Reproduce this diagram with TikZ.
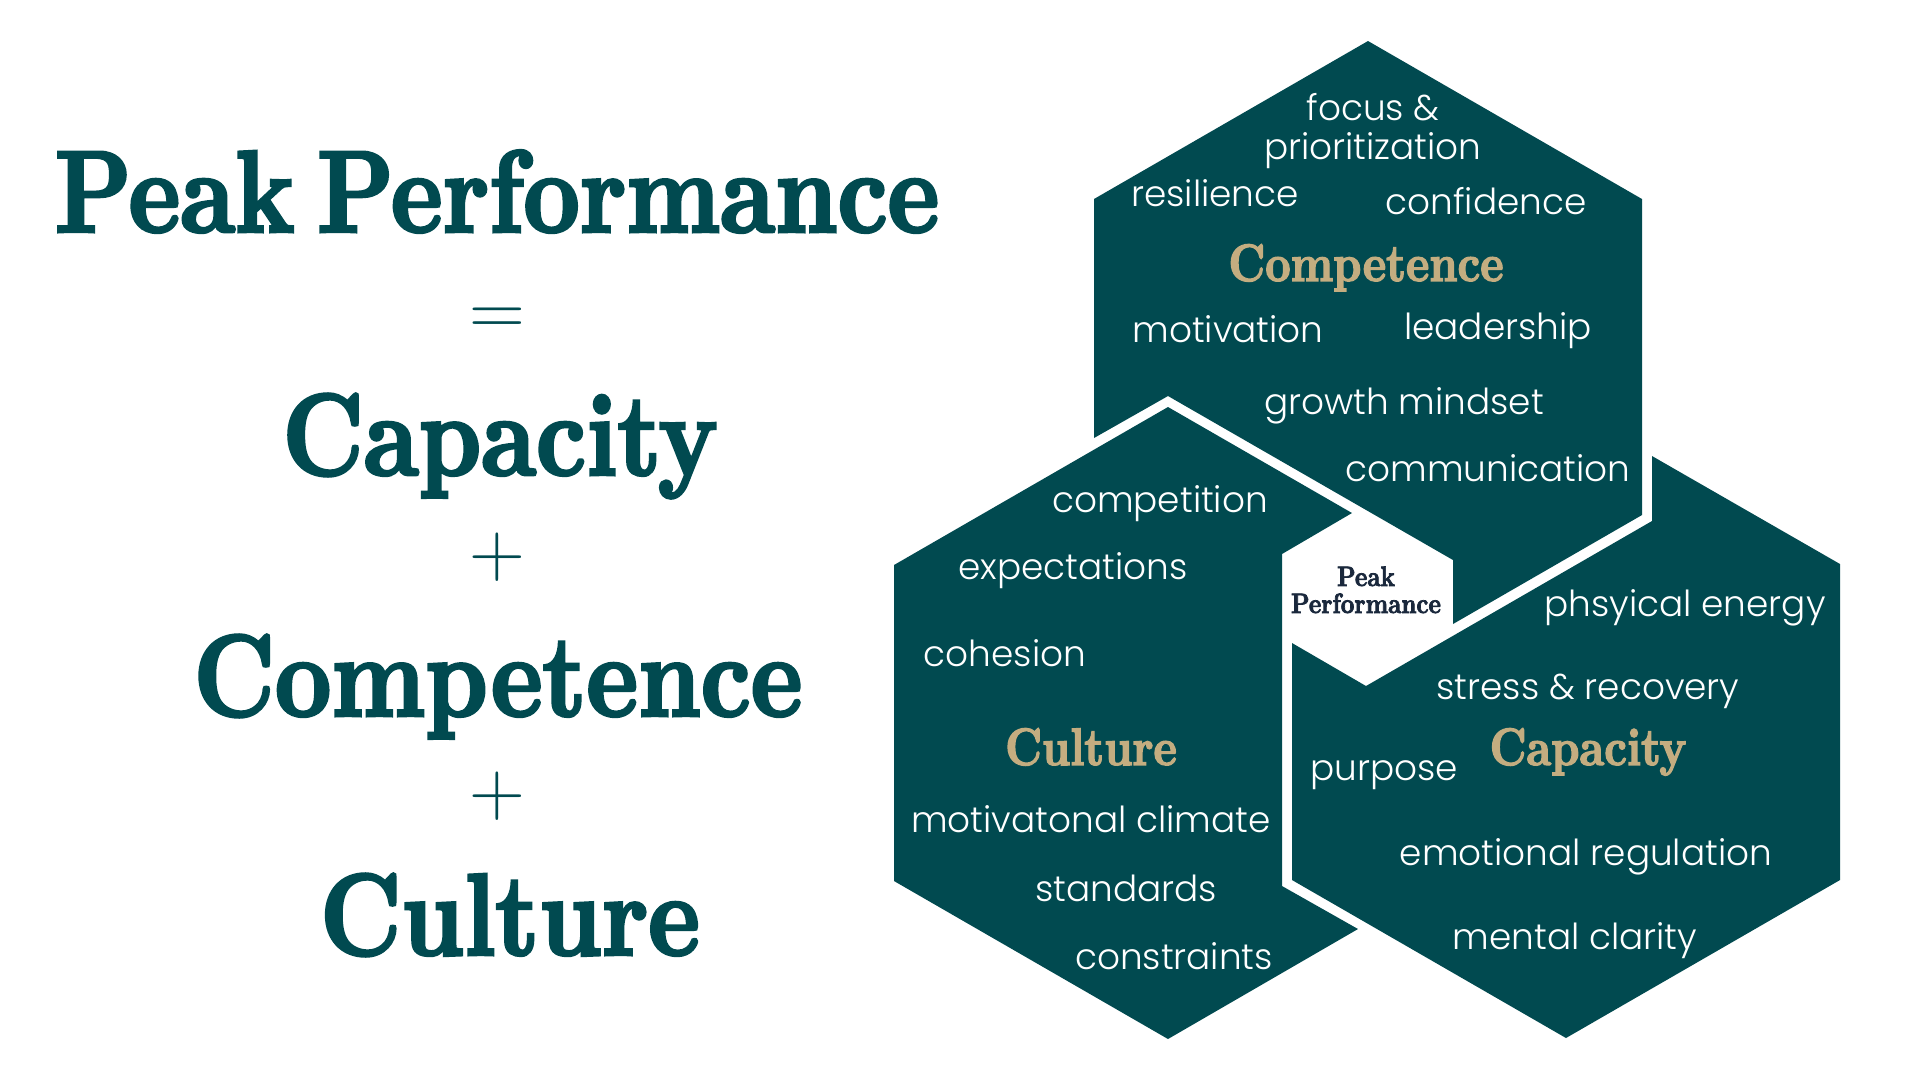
\documentclass[tikz,border=0pt]{standalone}
\usepackage{fontspec}
\IfFontExistsTF{Poppins Light}{\newfontfamily\itemfont{Poppins Light}}{\newfontfamily\itemfont{Poppins}}
\newfontfamily\titlefont[FakeStretch=0.84, FakeBold=2.5, WordSpace=0.6]{lmroman10-bold.otf}
\definecolor{hexteal}{RGB}{1,74,80}
\definecolor{hexgold}{RGB}{196,173,128}
\definecolor{peaknavy}{RGB}{26,40,60}
\tikzset{
	hexfill/.style={fill=hexteal, draw=none},
	itemtext/.style={anchor=base, inner sep=0pt, text=white, font=\itemfont\fontsize{10.2}{12}\selectfont},
	hexlabel/.style={anchor=base, inner sep=0pt, text=hexgold, font=\titlefont\fontsize{15}{18}\selectfont},
	bigword/.style={anchor=base, inner sep=0pt, text=hexteal, font=\titlefont\fontsize{33.2}{40}\selectfont},
	opsign/.style={inner sep=0pt, text=hexteal, font=\rmfamily\fontsize{22}{26}\selectfont},
	peaklabel/.style={anchor=base, inner sep=0pt, text=peaknavy, font=\titlefont\fontsize{8}{10}\selectfont}
}

\begin{document}
\begin{tikzpicture}[x=0.1mm, y=-0.1mm]
	\useasboundingbox (0,0) rectangle (1920,1080);

	% hexagons
	\fill[hexfill] (1094,199) -- (1368,41) -- (1642,199) -- (1642,515) -- (1453,624)
		-- (1453,560) -- (1168,396) -- (1094,438) -- cycle;
	\fill[hexfill] (894,565) -- (1168,407) -- (1352,513) -- (1282,554) -- (1282,886)
		-- (1358,929) -- (1168,1039) -- (894,881) -- cycle;
	\fill[hexfill] (1652,456) -- (1840,564) -- (1840,880) -- (1566,1038) -- (1292,880)
		-- (1292,643) -- (1366,686) -- (1652,521) -- cycle;

	% equation
	\node[bigword] (peak) at (497,232) {Peak Performance};
	\node[opsign] (equals) at (497,322) {=};
	\node[bigword] (capacity) at (500,475) {Capacity};
	\node[opsign] (plusa) at (497,557) {+};
	\node[bigword] (competence) at (498,716) {Competence};
	\node[opsign] (plusb) at (497,796) {+};
	\node[bigword] (culture) at (510,955) {Culture};

	% competence
	\node[itemtext] (focus) at (1373,120) {focus \&};
	\node[itemtext] (prior) at (1373,159) {prioritization};
	\node[itemtext] (resil) at (1215,206) {resilience};
	\node[itemtext] (confid) at (1486,214) {confidence};
	\node[hexlabel] (complabel) at (1366,281) {Competence};
	\node[itemtext] (motiv) at (1228,342) {motivation};
	\node[itemtext] (lead) at (1498,339) {leadership};
	\node[itemtext] (growth) at (1404,414) {growth mindset};
	\node[itemtext] (comm) at (1488,481) {communication};

	% culture
	\node[itemtext] (compet) at (1160,512) {competition};
	\node[itemtext] (expect) at (1073,579) {expectations};
	\node[itemtext] (cohes) at (1005,666) {cohesion};
	\node[hexlabel] (cultlabel) at (1091,765) {Culture};
	\node[itemtext] (climate) at (1091,832) {motivatonal climate};
	\node[itemtext] (stand) at (1126,901) {standards};
	\node[itemtext] (constr) at (1174,969) {constraints};

	% capacity
	\node[itemtext] (energy) at (1685,616) {phsyical energy};
	\node[itemtext] (stress) at (1588,699) {stress \& recovery};
	\node[itemtext] (purp) at (1384,780) {purpose};
	\node[hexlabel] (caplabel) at (1588,765) {Capacity};
	\node[itemtext] (emot) at (1586,865) {emotional regulation};
	\node[itemtext] (mental) at (1575,949) {mental clarity};

	% centre
	\node[peaklabel] (centrea) at (1366,586) {Peak};
	\node[peaklabel] (centreb) at (1366,613) {Performance};
\end{tikzpicture}
\end{document}
